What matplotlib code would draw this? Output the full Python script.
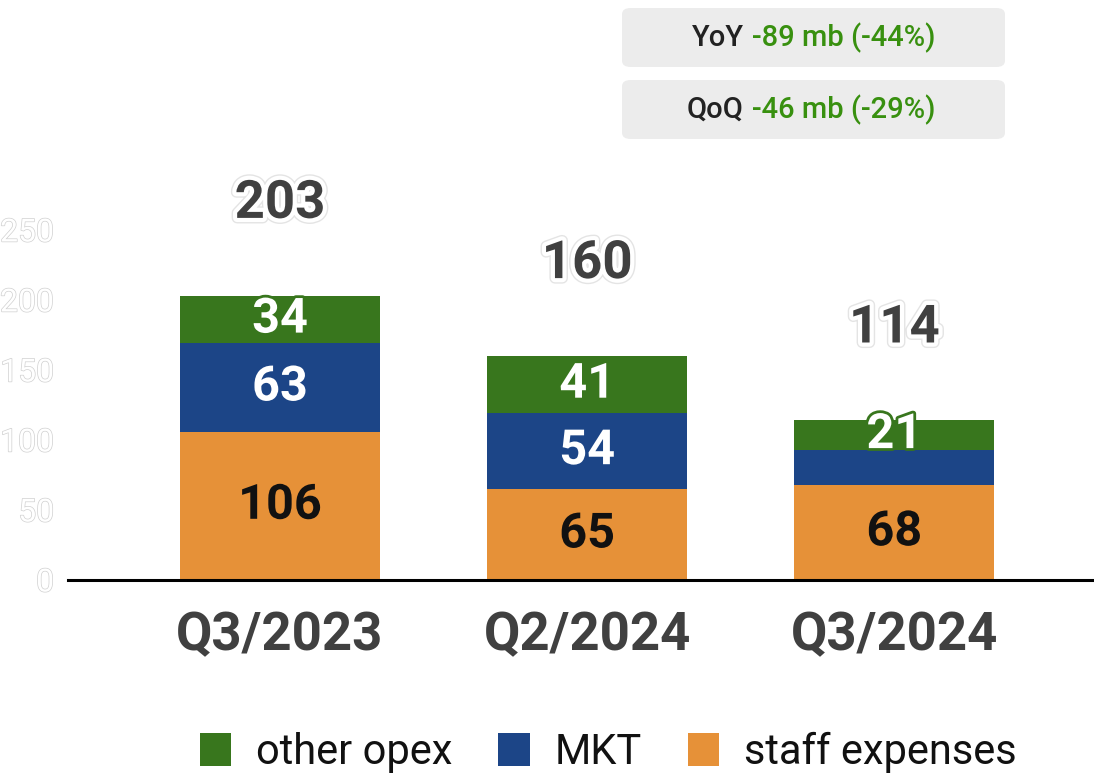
import matplotlib
matplotlib.use("Agg")
import matplotlib.pyplot as plt
import matplotlib.patheffects as pe
from matplotlib.patches import Patch, FancyBboxPatch

plt.rcParams['font.family'] = ['Roboto', 'DejaVu Sans']

# data
quarters = ['Q3/2023', 'Q2/2024', 'Q3/2024']
staff = [106, 65, 68]
mkt = [63, 54, 25]
other = [34, 41, 21]
totals = [203, 160, 114]
mkt_shown = [True, True, False]
yticks = [0, 50, 100, 150, 200, 250]
yoy_text = ('YoY', '-89 mb (-44%)')
qoq_text = ('QoQ', '-46 mb (-29%)')

c_staff = '#e69138'
c_mkt = '#1c4587'
c_other = '#38761d'
c_green_txt = '#38900f'

W, H = 1094, 774
fig = plt.figure(figsize=(W / 100, H / 100), dpi=100)
ax = fig.add_axes([68 / W, (H - 580) / H, 1 - 68 / W, 420 / H])

x = range(len(quarters))
width = 0.65
ax.bar(x, staff, width, color=c_staff, edgecolor='none')
ax.bar(x, mkt, width, bottom=staff, color=c_mkt, edgecolor='none')
bot2 = [s + m for s, m in zip(staff, mkt)]
ax.bar(x, other, width, bottom=bot2, color=c_other, edgecolor='none')

ax.set_xlim(-0.69, 2.65)
ax.set_ylim(0, 300)


# segment labels
def seg_label(i, y, val, col, edge):
    ax.text(i, y, str(val), ha='center', va='center', fontsize=35,
            fontweight='bold', color=col,
            path_effects=[pe.Stroke(linewidth=4, foreground=edge), pe.Normal()])


for i in x:
    seg_label(i, staff[i] / 2, staff[i], '#111111', c_staff)
    if mkt_shown[i]:
        seg_label(i, staff[i] + mkt[i] / 2, mkt[i], 'white', c_mkt)
    seg_label(i, bot2[i] + other[i] / 2, other[i], 'white', c_other)
    ax.text(i, totals[i] + 66, str(totals[i]), ha='center', va='center',
            fontsize=38, fontweight='bold', color='#404040',
            path_effects=[pe.Stroke(linewidth=8, foreground='#e4e4e4'),
                          pe.Stroke(linewidth=6, foreground='white'),
                          pe.Normal()])

# axes styling
for s in ['top', 'right', 'left']:
    ax.spines[s].set_visible(False)
ax.spines['bottom'].set_linewidth(2.2)
ax.spines['bottom'].set_color('black')
ax.set_yticks(yticks)
ax.set_xticks(list(x))
ax.set_xticklabels(quarters, fontsize=38, fontweight='bold', color='#404040')
ax.tick_params(axis='x', length=0, pad=22)
ax.tick_params(axis='y', length=0, pad=10, labelsize=23, labelcolor='white')
for lab in ax.get_yticklabels():
    lab.set_path_effects([pe.Stroke(linewidth=1.0, foreground='#d0d0d0'), pe.Normal()])

# legend
handles = [Patch(facecolor=c_other, label='other opex'),
           Patch(facecolor=c_mkt, label='MKT'),
           Patch(facecolor=c_staff, label='staff expenses')]
fig.legend(handles=handles, loc='center', bbox_to_anchor=(0.556, 1 - 752 / H),
           ncol=3, frameon=False, fontsize=30, handlelength=0.75,
           handleheight=0.85, handletextpad=0.6, columnspacing=1.1,
           labelcolor='#111111')

# YoY / QoQ boxes
for (lbl, val), top in [(yoy_text, 8), (qoq_text, 80)]:
    box = FancyBboxPatch((622 / W, 1 - (top + 59) / H), 383 / W, 59 / H,
                         boxstyle='round,pad=0,rounding_size=0.008',
                         transform=fig.transFigure, facecolor='#ececec',
                         edgecolor='none')
    fig.patches.append(box)
    yc = 1 - (top + 30) / H
    fig.text(744 / W, yc, lbl, ha='right', va='center', fontsize=21,
             fontweight='medium', color='#222222')
    fig.text(752 / W, yc, val, ha='left', va='center', fontsize=21,
             fontweight='medium', color=c_green_txt)

fig.savefig('out.png', dpi=100)
